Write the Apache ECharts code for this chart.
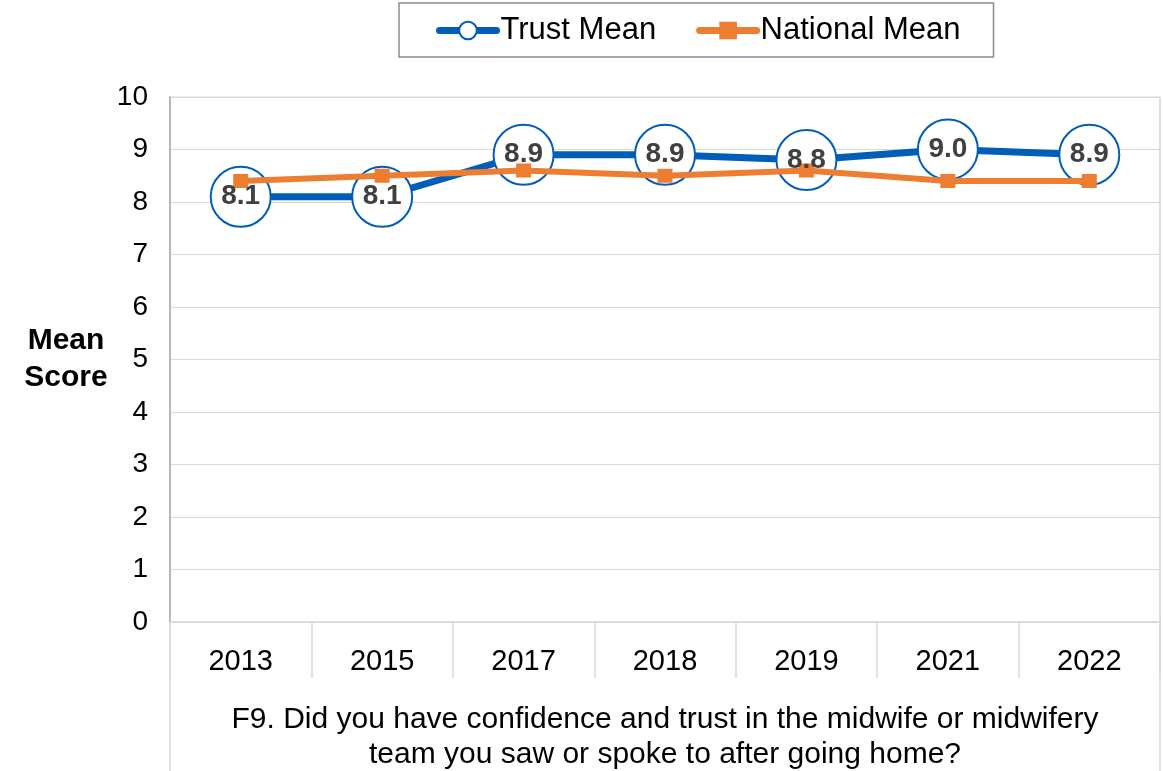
<!DOCTYPE html>
<html>
<head>
<meta charset="utf-8">
<title>F9 Mean Score</title>
<script src="https://cdn.jsdelivr.net/npm/echarts@6/dist/echarts.min.js"></script>
<style>
  html, body { margin: 0; padding: 0; background: #ffffff; }
  #chart { width: 1163px; height: 771px; }
</style>
</head>
<body>
<div id="chart"></div>
<script>
// Survey years and mean scores
const years = ['2013', '2015', '2017', '2018', '2019', '2021', '2022'];
const trustMean = [8.1, 8.1, 8.9, 8.9, 8.8, 9.0, 8.9];
const nationalMean = [8.4, 8.5, 8.6, 8.5, 8.6, 8.4, 8.4];
const yTicks = { min: 0, max: 10, interval: 1 };
const question = 'F9. Did you have confidence and trust in the midwife or midwifery\nteam you saw or spoke to after going home?';

const FONT = '"Liberation Sans", Arial, sans-serif';
const BLUE = '#005EB8';
const ORANGE = '#ED7D31';
const LIGHT = '#d9d9d9';

const W = 1163, H = 771;
const grid = { left: 170, right: 3, top: 97, bottom: 149 };

const chart = echarts.init(document.getElementById('chart'), null, { renderer: 'canvas' });

chart.setOption({
  animation: false,
  backgroundColor: '#ffffff',
  textStyle: { fontFamily: FONT },
  legend: {
    data: ['Trust Mean', 'National Mean'],
    left: 399,
    top: 3,
    padding: [12, 33, 11, 37],
    itemWidth: 57,
    itemHeight: 22,
    itemGap: 40,
    borderColor: '#8c8c8c',
    borderWidth: 1.5,
    lineStyle: { width: 7, cap: 'round' },
    itemStyle: { borderWidth: 2 },
    textStyle: { fontFamily: FONT, fontSize: 31, color: '#000000', padding: [0, 0, 0, -1] }
  },
  grid: {
    left: grid.left, right: grid.right, top: grid.top, bottom: grid.bottom,
    containLabel: false,
    outerBoundsMode: 'none',
    show: true, borderColor: LIGHT, borderWidth: 1
  },
  xAxis: {
    type: 'category',
    data: years,
    boundaryGap: true,
    axisLine: { lineStyle: { color: LIGHT, width: 1.5 } },
    axisTick: { show: true, interval: 0, length: 56, lineStyle: { color: LIGHT, width: 1.5 } },
    axisLabel: { fontFamily: FONT, fontSize: 29, color: '#000000', margin: 25, interval: 0 },
    name: question,
    nameLocation: 'middle',
    nameGap: 80,
    nameTextStyle: { fontFamily: FONT, fontSize: 30, color: '#000000', lineHeight: 35, align: 'center' }
  },
  yAxis: {
    type: 'value',
    min: yTicks.min,
    max: yTicks.max,
    interval: yTicks.interval,
    axisLine: { show: true, lineStyle: { color: '#a6a6a6', width: 1.5 } },
    axisTick: { show: false },
    splitLine: { lineStyle: { color: LIGHT, width: 1 } },
    axisLabel: { fontFamily: FONT, fontSize: 28, color: '#000000', margin: 22 },
    name: 'Mean\nScore',
    nameLocation: 'middle',
    nameRotate: 0,
    nameGap: 104,
    nameTextStyle: {
      fontFamily: FONT, fontSize: 30, fontWeight: 'bold', color: '#000000',
      lineHeight: 37, align: 'center', verticalAlign: 'middle', padding: [10, 0, 0, 0]
    }
  },
  graphic: [
    // side rules of the category/question table below the plot
    {
      type: 'line', silent: true, z: 1,
      shape: { x1: grid.left, y1: H - grid.bottom, x2: grid.left, y2: H },
      style: { stroke: LIGHT, lineWidth: 1.5 }
    },
    {
      type: 'line', silent: true, z: 1,
      shape: { x1: W - grid.right, y1: grid.top, x2: W - grid.right, y2: H },
      style: { stroke: LIGHT, lineWidth: 1.5 }
    }
  ],
  series: [
    {
      name: 'Trust Mean',
      type: 'line',
      data: trustMean,
      z: 2,
      symbol: 'circle',
      symbolSize: 60,
      lineStyle: { color: BLUE, width: 7 },
      itemStyle: { color: '#ffffff', borderColor: BLUE, borderWidth: 2 },
      label: { show: false }
    },
    {
      name: 'National Mean',
      type: 'line',
      data: nationalMean,
      z: 3,
      symbol: 'rect',
      symbolSize: [15, 14],
      lineStyle: { color: ORANGE, width: 6 },
      itemStyle: { color: ORANGE },
      label: { show: false }
    },
    {
      // value labels for the trust series, kept above both lines
      name: 'Trust Mean labels',
      type: 'line',
      data: trustMean,
      z: 4,
      silent: true,
      symbol: 'circle',
      symbolSize: 1,
      lineStyle: { width: 0, opacity: 0 },
      itemStyle: { color: 'rgba(0,0,0,0)' },
      label: {
        show: true,
        position: 'inside',
        formatter: (p) => p.value.toFixed(1),
        fontFamily: FONT,
        fontSize: 28,
        fontWeight: 'bold',
        color: '#404040'
      }
    }
  ]
});
</script>
</body>
</html>
